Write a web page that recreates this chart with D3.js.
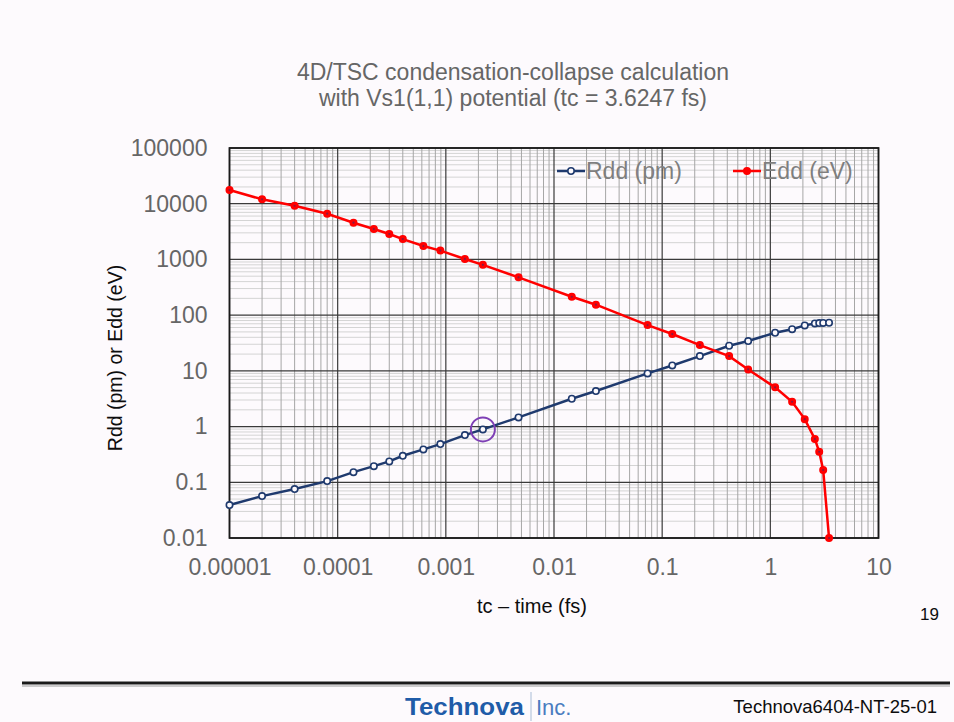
<!DOCTYPE html>
<html>
<head>
<meta charset="utf-8">
<script src="https://cdn.jsdelivr.net/npm/d3@7"></script>
<style>
  html, body { margin: 0; padding: 0; background: #fdfafd; }
  svg { display: block; font-family: 'Liberation Sans', Arial, sans-serif; }
</style>
</head>
<body>
<div id="chart"></div>
<script>
// ===================================================================

const WIDTH = 954
const HEIGHT = 722

const PLOT = { left: 229.5, right: 878.5, top: 148, bottom: 538 }

// time before collapse (fs)
const TIMES = [
  1e-5, 2e-5, 4e-5, 8e-5, 1.4e-4, 2.16e-4, 3.0e-4, 4.0e-4, 6.2e-4, 8.9e-4,
  1.5e-3, 2.2e-3, 4.7e-3, 0.0146, 0.0244, 0.0733, 0.124, 0.223, 0.416, 0.624,
  1.107, 1.59, 2.08, 2.58, 2.83, 3.08, 3.49
]

// Rdd (pm)
const RDD = [
  0.039, 0.0565, 0.0755, 0.105, 0.152, 0.195, 0.237, 0.299, 0.389, 0.485,
  0.703, 0.89, 1.46, 3.16, 4.34, 9.0, 12.5, 18.4, 28.2, 34.3,
  48.3, 56, 65.5, 71, 72, 72.5, 73
]

// Edd (eV)
const EDD = [
  17600, 12000, 9200, 6620, 4560, 3510, 2860, 2320, 1740, 1440,
  1020, 800, 477, 214, 154, 66.4, 45.8, 29.0, 18.4, 10.6,
  5.06, 2.79, 1.36, 0.60, 0.353, 0.166, 0.01
]

const X_TICKS = [1e-5, 1e-4, 1e-3, 0.01, 0.1, 1, 10]
const X_TICK_LABELS = ['0.00001', '0.0001', '0.001', '0.01', '0.1', '1', '10']
const Y_TICKS = [0.01, 0.1, 1, 10, 100, 1000, 10000, 100000]
const Y_TICK_LABELS = ['0.01', '0.1', '1', '10', '100', '1000', '10000', '100000']

const SERIES = [
  { name: 'Rdd (pm)', values: RDD, color: '#1f3a6e' },
  { name: 'Edd (eV)', values: EDD, color: '#ff0000' }
]

const TITLE = ['4D/TSC condensation-collapse calculation', 'with Vs1(1,1) potential (tc = 3.6247 fs)']

// point circled on the chart
const HIGHLIGHT = { t: 2.2e-3, v: 0.89 }

// ===================================================================

const x = d3.scaleLog().domain([1e-5, 10]).range([PLOT.left, PLOT.right])
const y = d3.scaleLog().domain([0.01, 100000]).range([PLOT.bottom, PLOT.top])

const minors = domain => {
  const out = []
  for (let e = Math.log10(domain[0]); e < Math.log10(domain[1]); e++) {
    for (let k = 2; k <= 9; k++) out.push(k * Math.pow(10, e))
  }
  return out
}

const svg = d3.select('#chart').append('svg')
  .attr('width', WIDTH)
  .attr('height', HEIGHT)

svg.append('rect').attr('width', WIDTH).attr('height', HEIGHT).attr('fill', '#fdfafd')

// title
svg.append('text')
  .attr('x', 513).attr('y', 80)
  .attr('text-anchor', 'middle')
  .attr('font-size', 23).attr('fill', '#666666')
  .selectAll('tspan').data(TITLE).join('tspan')
    .attr('x', 513).attr('dy', (d, i) => i ? 26 : 0)
    .text(d => d)

// grid
const grid = svg.append('g')
grid.selectAll('.ymin').data(minors(y.domain())).join('line')
  .attr('x1', PLOT.left).attr('x2', PLOT.right)
  .attr('y1', d => y(d)).attr('y2', d => y(d))
  .attr('stroke', '#d4d4d4').attr('stroke-width', 1)
grid.selectAll('.xmin').data(minors(x.domain())).join('line')
  .attr('x1', d => x(d)).attr('x2', d => x(d))
  .attr('y1', PLOT.top).attr('y2', PLOT.bottom)
  .attr('stroke', '#a6a6a6').attr('stroke-width', 1)
grid.selectAll('.ymaj').data(Y_TICKS).join('line')
  .attr('x1', PLOT.left).attr('x2', PLOT.right)
  .attr('y1', d => y(d)).attr('y2', d => y(d))
  .attr('stroke', '#3a3a3a').attr('stroke-width', 1.2)
grid.selectAll('.xmaj').data(X_TICKS).join('line')
  .attr('x1', d => x(d)).attr('x2', d => x(d))
  .attr('y1', PLOT.top).attr('y2', PLOT.bottom)
  .attr('stroke', '#3a3a3a').attr('stroke-width', 1.2)

svg.append('rect')
  .attr('x', PLOT.left).attr('y', PLOT.top)
  .attr('width', PLOT.right - PLOT.left).attr('height', PLOT.bottom - PLOT.top)
  .attr('fill', 'none').attr('stroke', '#1a1a1a').attr('stroke-width', 1.8)

// axes
const xAxis = svg.append('g')
  .attr('transform', `translate(0, ${PLOT.bottom})`)
  .call(d3.axisBottom(x).tickValues(X_TICKS).tickFormat((d, i) => X_TICK_LABELS[i]).tickSize(0).tickPadding(21))
xAxis.select('.domain').remove()
xAxis.selectAll('text').attr('font-size', 23).attr('fill', '#666666').attr('font-family', null).attr('dy', '0.71em')

const yAxis = svg.append('g')
  .attr('transform', `translate(${PLOT.left}, 0)`)
  .call(d3.axisLeft(y).tickValues(Y_TICKS).tickFormat((d, i) => Y_TICK_LABELS[i]).tickSize(0).tickPadding(22))
yAxis.select('.domain').remove()
yAxis.selectAll('text').attr('font-size', 23).attr('fill', '#666666').attr('font-family', null)

svg.append('text')
  .attr('x', 532).attr('y', 613)
  .attr('text-anchor', 'middle')
  .attr('font-size', 20).attr('fill', '#0d0d0d')
  .text('tc \u2013 time (fs)')

svg.append('text')
  .attr('transform', `translate(122, ${(PLOT.top + PLOT.bottom) / 2 + 15}) rotate(-90)`)
  .attr('text-anchor', 'middle')
  .attr('font-size', 19.5).attr('fill', '#0d0d0d')
  .text('Rdd (pm) or Edd (eV)')

// series
const line = d3.line()
  .x(d => x(d.t))
  .y(d => y(d.v))

SERIES.forEach((s, si) => {
  const pts = TIMES.map((t, i) => ({ t, v: s.values[i] }))
  const g = svg.append('g')
  g.append('path')
    .datum(pts)
    .attr('d', line)
    .attr('fill', 'none').attr('stroke', s.color).attr('stroke-width', 2.5)
  g.selectAll('circle').data(pts).join('circle')
    .attr('cx', d => x(d.t)).attr('cy', d => y(d.v))
    .attr('r', 3.2)
    .attr('fill', si ? s.color : '#fdfafd')
    .attr('stroke', s.color).attr('stroke-width', 1.6)
  if (si) {
    g.selectAll('.dot').data(pts).join('circle')
      .attr('cx', d => x(d.t)).attr('cy', d => y(d.v))
      .attr('r', 1.1).attr('fill', '#8a1840')
  }
})

svg.append('circle')
  .attr('cx', x(HIGHLIGHT.t)).attr('cy', y(HIGHLIGHT.v))
  .attr('r', 12)
  .attr('fill', 'none').attr('stroke', '#7e3fb5').attr('stroke-width', 2)

// legend
const legend = svg.append('g').attr('transform', `translate(557, ${PLOT.top + 23})`)
SERIES.forEach((s, i) => {
  const g = legend.append('g').attr('transform', `translate(${i * 176}, 0)`)
  g.append('line').attr('x1', 0).attr('x2', 28).attr('stroke', s.color).attr('stroke-width', 2.5)
  g.append('circle').attr('cx', 14).attr('r', 3.2)
    .attr('fill', i ? s.color : '#fdfafd').attr('stroke', s.color).attr('stroke-width', 1.6)
  g.append('text').attr('x', 29).attr('dy', '0.36em')
    .attr('font-size', 23).attr('fill', '#7f7f7f')
    .text(s.name)
})

// page footer
svg.append('text').attr('x', 939).attr('y', 620).attr('text-anchor', 'end')
  .attr('font-size', 17).attr('fill', '#0d0d0d').text('19')

svg.append('line').attr('x1', 22).attr('x2', 950).attr('y1', 683).attr('y2', 683)
  .attr('stroke', '#1a1a1a').attr('stroke-width', 3)
svg.append('line').attr('x1', 22).attr('x2', 950).attr('y1', 686).attr('y2', 686)
  .attr('stroke', '#9a9a9a').attr('stroke-width', 1)

svg.append('text').attr('x', 405).attr('y', 715)
  .attr('font-size', 24).attr('font-weight', 'bold').attr('fill', '#1f5ca8')
  .attr('textLength', 119).attr('lengthAdjust', 'spacingAndGlyphs')
  .text('Technova')
svg.append('line').attr('x1', 531).attr('x2', 531).attr('y1', 692).attr('y2', 721)
  .attr('stroke', '#a9bcd6').attr('stroke-width', 1)
svg.append('text').attr('x', 536).attr('y', 715)
  .attr('font-size', 22).attr('fill', '#4a7cc0')
  .text('Inc.')

svg.append('text').attr('x', 937).attr('y', 713).attr('text-anchor', 'end')
  .attr('font-size', 18.5).attr('fill', '#0d0d0d')
  .text('Technova6404-NT-25-01')
</script>
</body>
</html>
